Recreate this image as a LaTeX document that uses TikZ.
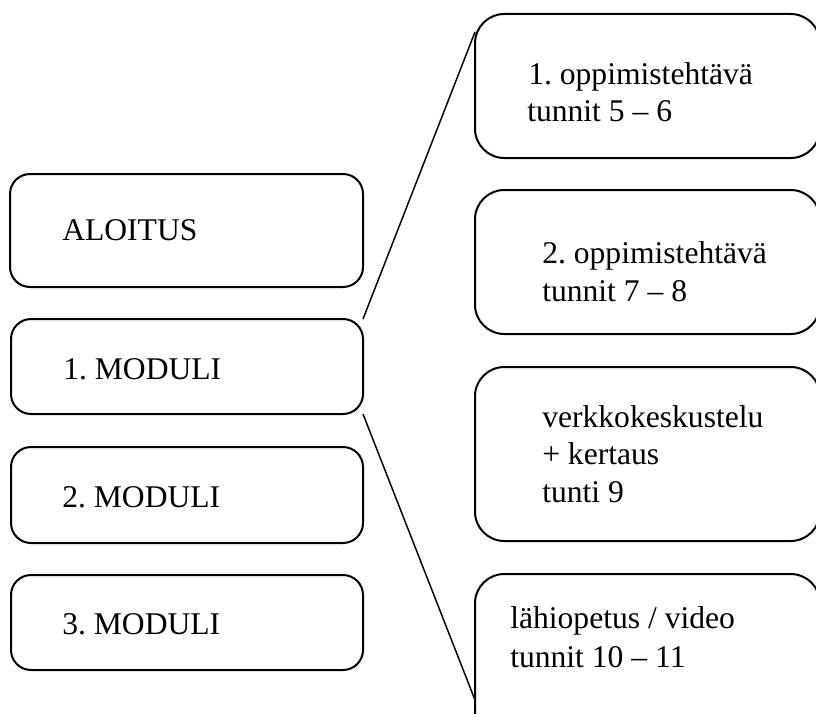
\documentclass[tikz,border=0pt]{standalone}
\usepackage{fontspec}
\setmainfont{Liberation Serif}
\frenchspacing
\newlength\pxu
\setlength\pxu{0.75pt}
\begin{document}
\begin{tikzpicture}[x=0.75pt, y=-0.75pt,
  lbox/.style={draw, line width=1.5pt, rounded corners=15pt, inner sep=0pt, outer sep=0pt, anchor=north west},
  rbox/.style={draw, line width=1.5pt, rounded corners=22pt, inner sep=0pt, outer sep=0pt, anchor=north west},
  txt/.style={inner sep=0pt, anchor=base west, font=\fontsize{23.7pt}{28.1pt}\selectfont},
  link/.style={draw, line width=1.1pt}]
\clip (0,0) rectangle (816,713);

% module column
\node[lbox, minimum width=353\pxu, minimum height=113\pxu] (aloitus) at (10,174) {};
\node[lbox, minimum width=352\pxu, minimum height=95\pxu] (mod1) at (11,319) {};
\node[lbox, minimum width=352\pxu, minimum height=96\pxu] (mod2) at (11,447) {};
\node[lbox, minimum width=352\pxu, minimum height=95\pxu] (mod3) at (11,575) {};

\node[txt] (taloitus) at (62,240) {ALOITUS};
\node[txt] (tmod1) at (63,379) {1. MODULI};
\node[txt] (tmod2) at (62,507) {2. MODULI};
\node[txt] (tmod3) at (62,634) {3. MODULI};

% contents of the first module
\node[rbox, minimum width=345\pxu, minimum height=144\pxu] (r1) at (475,14) {};
\node[rbox, minimum width=345\pxu, minimum height=144\pxu] (r2) at (475,190) {};
\node[rbox, minimum width=345\pxu, minimum height=174\pxu] (r3) at (475,367) {};
\node[rbox, minimum width=345\pxu, minimum height=176\pxu] (r4) at (475,574) {};

\node[txt] (t1a) at (528,85) {1. oppimistehtävä};
\node[txt] (t1b) at (527,122) {tunnit 5 – 6};
\node[txt] (t2a) at (542,263) {2. oppimistehtävä};
\node[txt] (t2b) at (542,301) {tunnit 7 – 8};
\node[txt] (t3a) at (542,427) {verkkokeskustelu};
\node[txt] (t3b) at (542,464) {+ kertaus};
\node[txt] (t3c) at (542,502) {tunti 9};
\node[txt] (t4a) at (510,628) {lähiopetus / video};
\node[txt] (t4b) at (510,667) {tunnit 10 – 11};

% bracket lines from the first module to its contents
\coordinate (r1in) at (475,32);
\coordinate (r4in) at (475,700);
\draw[link] (mod1.north east) -- (r1in);
\draw[link] (mod1.south east) -- (r4in);
\end{tikzpicture}
\end{document}
